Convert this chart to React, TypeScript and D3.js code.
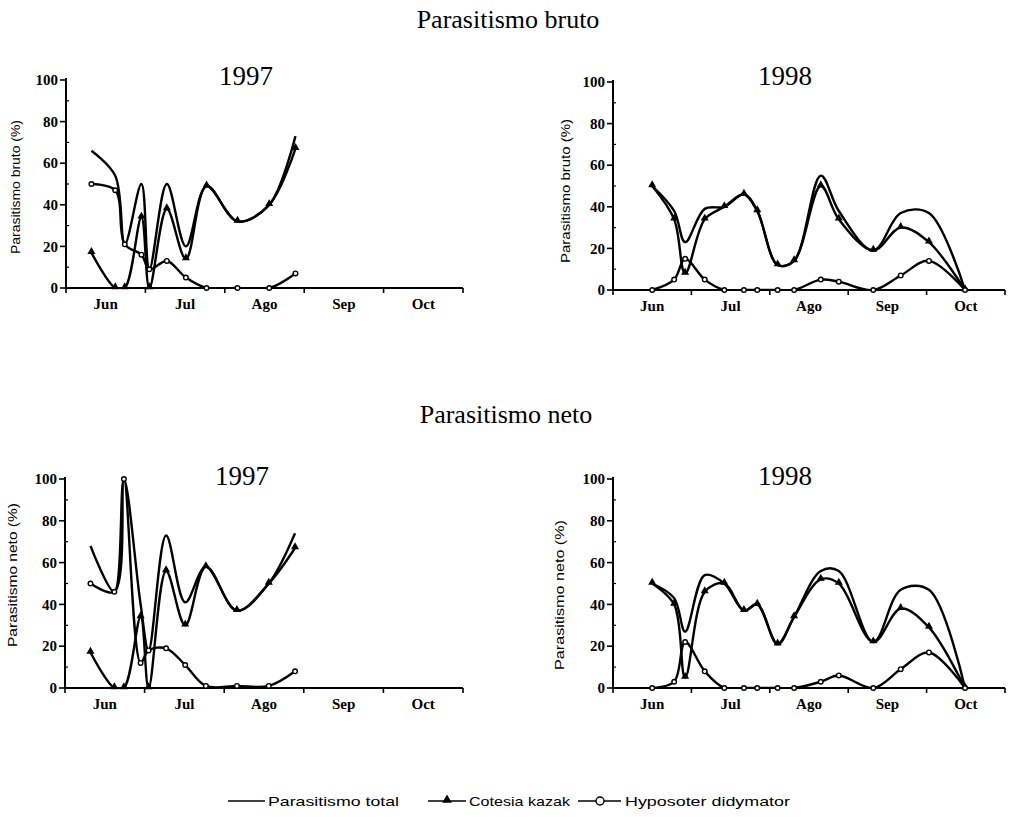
import * as d3 from "d3";

const MESES = ["Jun", "Jul", "Ago", "Sep", "Oct"];
const Y_TICKS = [0, 20, 40, 60, 80, 100];
const Y_MINOR = [10, 30, 50, 70, 90];

// sampling dates, in months (0 = middle of June)
const fechas97 = [-0.18, 0.12, 0.24, 0.45, 0.55, 0.77, 1.01, 1.27, 1.66, 2.06, 2.39];
const fechas98 = [0, 0.28, 0.42, 0.67, 0.92, 1.17, 1.34, 1.6, 1.81, 2.15, 2.38, 2.82, 3.17, 3.53, 3.99];

// Parasitismo bruto (%)
const brutoTotal97 = [66, 54, 21, 50, 9, 50, 20, 49, 32, 40, 73];
const brutoCotesia97 = [17, 0, 0, 34, 0, 38, 14, 49, 32, 40, 67];
const brutoHyposoter97 = [50, 47, 21, 16, 9, 13, 5, 0, 0, 0, 7];

const brutoTotal98 = [50, 38, 23, 39, 40, 46, 38, 12, 14, 55, 38, 19, 37, 37, 0];
const brutoCotesia98 = [50, 34, 8, 34, 40, 46, 38, 12, 14, 50, 34, 19, 30, 23, 0];
const brutoHyposoter98 = [0, 5, 15, 5, 0, 0, 0, 0, 0, 5, 4, 0, 7, 14, 0];

// Parasitismo neto (%)
const netoTotal97 = [68, 46, 100, 40, 18, 73, 41, 58, 37, 50, 74];
const netoCotesia97 = [17, 0, 0, 34, 0, 56, 30, 58, 37, 50, 67];
const netoHyposoter97 = [50, 46, 100, 12, 18, 19, 11, 1, 1, 1, 8];

const netoTotal98 = [50, 43, 27, 54, 50, 37, 40, 21, 34, 56, 56, 22, 47, 47, 0];
const netoCotesia98 = [50, 40, 5, 46, 50, 37, 40, 21, 34, 52, 50, 22, 38, 29, 0];
const netoHyposoter98 = [0, 3, 22, 8, 0, 0, 0, 0, 0, 3, 6, 0, 9, 17, 0];

const SERIF = "'Liberation Serif', 'Times New Roman', serif";
const SANS = "'Liberation Sans', Arial, sans-serif";

type Layout = {
  id: string;
  left: number;
  right: number;
  top: number;
  bottom: number;
  yearX: number;
  yearY: number;
  labelX: number;
  labelY: number;
  labelLen: number;
};

function Panel({
  layout,
  fechas,
  total,
  cotesia,
  hyposoter,
  year,
  yLabel,
}: {
  layout: Layout;
  fechas: number[];
  total: number[];
  cotesia: number[];
  hyposoter: number[];
  year: string;
  yLabel: string;
}) {
  const x = d3.scaleLinear().domain([-0.5, 4.5]).range([layout.left, layout.right]);
  const y = d3.scaleLinear().domain([0, 100]).range([layout.bottom, layout.top]);
  const line = d3
    .line<number>()
    .x((_, i) => x(fechas[i]))
    .y((d) => y(d))
    .curve(d3.curveCatmullRom.alpha(0.5));
  const tri = d3.symbol(d3.symbolTriangle, 28)() as string;
  const bounds = d3.range(-0.5, 5, 1);

  return (
    <g>
      <defs>
        <clipPath id={`clip-${layout.id}`}>
          <rect x={layout.left} y={layout.top - 10} width={layout.right - layout.left} height={layout.bottom - layout.top + 11} />
        </clipPath>
      </defs>

      <text x={layout.yearX} y={layout.yearY} textAnchor="middle" fontFamily={SERIF} fontSize={27}>
        {year}
      </text>
      <text
        transform={`translate(${layout.labelX},${layout.labelY}) rotate(-90)`}
        textAnchor="middle"
        fontFamily={SANS}
        fontSize={13}
        textLength={layout.labelLen}
        lengthAdjust="spacingAndGlyphs"
      >
        {yLabel}
      </text>

      {/* y axis */}
      <line x1={layout.left} x2={layout.left} y1={y(0)} y2={y(100) - 2} stroke="#000" strokeWidth={2} />
      {Y_TICKS.map((t) => (
        <g key={t}>
          <line x1={layout.left - 6} x2={layout.left} y1={y(t)} y2={y(t)} stroke="#000" strokeWidth={1.6} />
          <text x={layout.left - 8} y={y(t)} dy="0.35em" textAnchor="end" fontFamily={SERIF} fontWeight="bold" fontSize={15}>
            {t}
          </text>
        </g>
      ))}
      {Y_MINOR.map((t) => (
        <line key={t} x1={layout.left} x2={layout.left + 3} y1={y(t)} y2={y(t)} stroke="#000" strokeWidth={1.2} />
      ))}

      {/* x axis */}
      <line x1={layout.left} x2={layout.right} y1={y(0)} y2={y(0)} stroke="#000" strokeWidth={2} />
      {bounds.map((b) => (
        <line key={b} x1={x(b)} x2={x(b)} y1={y(0)} y2={y(0) + 5} stroke="#000" strokeWidth={1.6} />
      ))}
      {MESES.map((m, i) => (
        <text key={m} x={x(i)} y={y(0) + 21} textAnchor="middle" fontFamily={SERIF} fontWeight="bold" fontSize={15}>
          {m}
        </text>
      ))}

      <g clipPath={`url(#clip-${layout.id})`} fill="none" stroke="#000" strokeWidth={2.4} strokeLinejoin="round">
        <path d={line(total) ?? ""} />
        <path d={line(cotesia) ?? ""} />
        <path d={line(hyposoter) ?? ""} />
      </g>

      {cotesia.map((v, i) => (
        <path key={`c${i}`} d={tri} transform={`translate(${x(fechas[i])},${y(v) - 1})`} fill="#000" />
      ))}
      {hyposoter.map((v, i) => (
        <circle key={`h${i}`} cx={x(fechas[i])} cy={y(v)} r={2.3} fill="#fff" stroke="#000" strokeWidth={1.4} />
      ))}
    </g>
  );
}

const layouts: Layout[] = [
  { id: "b97", left: 66, right: 463, top: 80, bottom: 288, yearX: 246, yearY: 85, labelX: 20, labelY: 187, labelLen: 134 },
  { id: "b98", left: 613, right: 1005, top: 82, bottom: 290, yearX: 785, yearY: 85, labelX: 570, labelY: 191, labelLen: 144 },
  { id: "n97", left: 65, right: 463, top: 479, bottom: 688, yearX: 242, yearY: 485, labelX: 17, labelY: 575, labelLen: 144 },
  { id: "n98", left: 613, right: 1005, top: 479, bottom: 688, yearX: 785, yearY: 485, labelX: 564, labelY: 595, labelLen: 150 },
];

export default function App() {
  const tri = d3.symbol(d3.symbolTriangle, 40)() as string;
  const legendY = 801;
  return (
    <svg width={1014} height={817} style={{ position: "absolute", left: 0, top: 0, background: "#fff" }}>
      <text x={508} y={28} textAnchor="middle" fontFamily={SERIF} fontSize={26}>
        Parasitismo bruto
      </text>
      <text x={506} y={423} textAnchor="middle" fontFamily={SERIF} fontSize={26}>
        Parasitismo neto
      </text>

      <Panel layout={layouts[0]} fechas={fechas97} total={brutoTotal97} cotesia={brutoCotesia97} hyposoter={brutoHyposoter97} year="1997" yLabel="Parasitismo bruto (%)" />
      <Panel layout={layouts[1]} fechas={fechas98} total={brutoTotal98} cotesia={brutoCotesia98} hyposoter={brutoHyposoter98} year="1998" yLabel="Parasitismo bruto (%)" />
      <Panel layout={layouts[2]} fechas={fechas97} total={netoTotal97} cotesia={netoCotesia97} hyposoter={netoHyposoter97} year="1997" yLabel="Parasitismo neto (%)" />
      <Panel layout={layouts[3]} fechas={fechas98} total={netoTotal98} cotesia={netoCotesia98} hyposoter={netoHyposoter98} year="1998" yLabel="Parasitismo neto (%)" />

      {/* legend */}
      <g fontFamily={SANS} fontSize={13}>
        <line x1={228} x2={265} y1={legendY} y2={legendY} stroke="#000" strokeWidth={1.6} />
        <text x={268} y={legendY + 5} textLength={131} lengthAdjust="spacingAndGlyphs">Parasitismo total</text>

        <line x1={428} x2={466} y1={legendY} y2={legendY} stroke="#000" strokeWidth={1.6} />
        <path d={tri} transform={`translate(447,${legendY - 1})`} fill="#000" />
        <text x={469} y={legendY + 5} textLength={101} lengthAdjust="spacingAndGlyphs">Cotesia kazak</text>

        <line x1={578} x2={621} y1={legendY} y2={legendY} stroke="#000" strokeWidth={1.6} />
        <circle cx={600} cy={legendY} r={4} fill="#fff" stroke="#000" strokeWidth={1.4} />
        <text x={625} y={legendY + 5} textLength={165} lengthAdjust="spacingAndGlyphs">Hyposoter didymator</text>
      </g>
    </svg>
  );
}
